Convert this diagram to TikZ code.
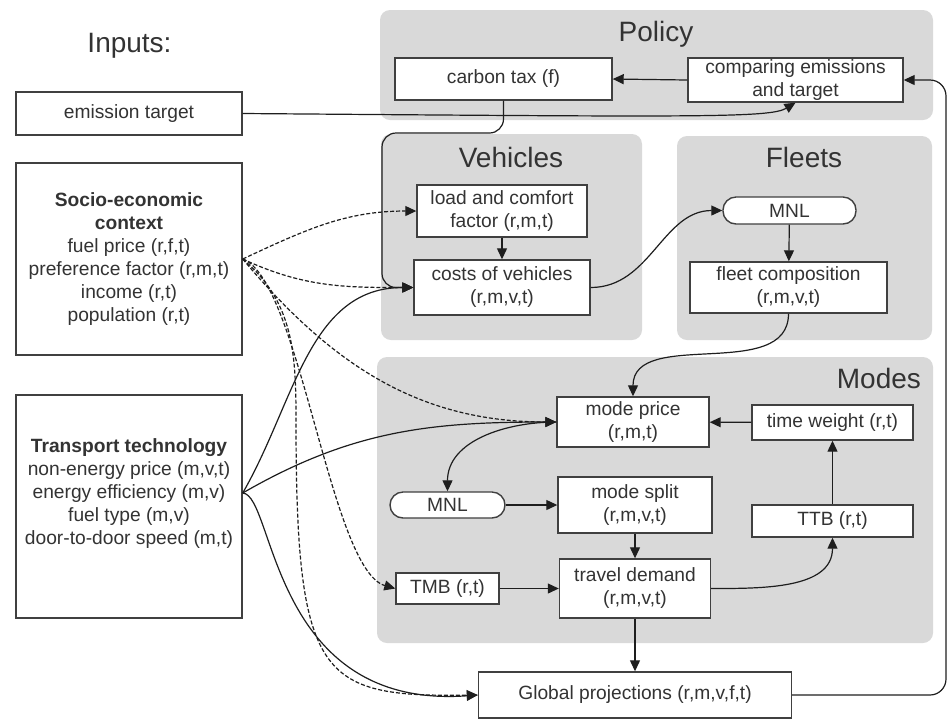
\documentclass[tikz,border=0pt]{standalone}
\usepackage{fontspec}
\setmainfont{Liberation Sans}
\usepackage{tikz}
\usetikzlibrary{arrows.meta,calc}

\definecolor{boxgray}{HTML}{404040}
\definecolor{linegray}{HTML}{1E1E1E}
\definecolor{panelgray}{HTML}{D9D9D9}
\definecolor{textgray}{HTML}{333333}
\newcommand{\blkfont}{\fontsize{9.6}{11.5}\selectfont}
\newcommand{\headfont}{\fontsize{14}{16}\selectfont}

\begin{document}
\begin{tikzpicture}[
    x=0.5pt, y=-0.5pt,
    % node styles
    blk/.style       = {draw=boxgray, fill=white, line width=0.7pt, align=center,
                         inner sep=0.5pt, text=textgray, font=\blkfont},
    pill/.style      = {blk, rounded corners=6.5pt},
    panel/.style     = {fill=panelgray, rounded corners=5pt},
    panelhead/.style = {font=\headfont, text=textgray, anchor=base},
    % edges
    link/.style      = {-{Triangle[length=5.5pt,width=5pt]}, line width=0.6pt, draw=linegray},
    dlink/.style     = {link, dash pattern=on 2pt off 1pt}
  ]
\useasboundingbox (0,0) rectangle (949,720);

% ============================================================
% Panels (grey backgrounds)
% ============================================================
\fill[panel] (380,10) rectangle (933,120);
\fill[panel] (381,134) rectangle (642,340);
\fill[panel] (677,136) rectangle (932,340);
\fill[panel] (377,357) rectangle (933,643);

\node[panelhead] (hinputs) at (129.5,52) {Inputs:};
\node[panelhead] (hpolicy) at (656,41) {Policy};
\node[panelhead] (hvehicles) at (511,167) {Vehicles};
\node[panelhead] (hfleets) at (804,167) {Fleets};
\node[panelhead, anchor=base east] (hmodes) at (928,388) {Modes};

% ============================================================
% Inputs (left column)
% ============================================================
\node[blk, minimum width=113pt, minimum height=21.5pt] (target) at (129,113.5)
  {emission target};
\node[blk, minimum width=113pt, minimum height=96pt] (socio) at (129,259)
  {\textbf{Socio-economic}\\\textbf{context}\\fuel price (r,f,t)\\
   preference factor (r,m,t)\\income (r,t)\\population (r,t)};
\node[blk, minimum width=113pt, minimum height=111.5pt] (tech) at (129,506.5)
  {\textbf{Transport technology}\\non-energy price (m,v,t)\\
   energy efficiency (m,v)\\fuel type (m,v)\\door-to-door speed (m,t)\\\strut};
\coordinate (techout) at ($(tech.east)+(0,-13.5)$);

% ============================================================
% Model blocks
% ============================================================
% Policy
\node[blk, minimum width=108.5pt, minimum height=21pt] (ctax) at (503.5,79)
  {carbon tax (f)};
\node[blk, minimum width=107.5pt, minimum height=22pt] (cmp) at (795.5,80)
  {comparing emissions\\and target};

% Vehicles
\node[blk, minimum width=85pt, minimum height=26pt] (load) at (502,211)
  {load and comfort\\factor (r,m,t)};
\node[blk, minimum width=88pt, minimum height=27.5pt] (vcost) at (502,287.5)
  {costs of vehicles\\(r,m,v,t)};

% Fleets
\node[pill, minimum width=66.5pt, minimum height=13.5pt] (fmnl) at (789.5,210.5) {MNL};
\node[blk, minimum width=98.5pt, minimum height=25.5pt] (fcomp) at (788.5,287.5)
  {fleet composition\\(r,m,v,t)};

% Modes
\node[blk, minimum width=76pt, minimum height=25pt] (mprice) at (633,422)
  {mode price\\(r,m,t)};
\node[blk, minimum width=80.5pt, minimum height=17.5pt] (tweight) at (832.5,422.5)
  {time weight (r,t)};
\node[pill, minimum width=57.5pt, minimum height=13pt] (mmnl) at (447.5,505) {MNL};
\node[blk, minimum width=77pt, minimum height=28pt] (msplit) at (635,505)
  {mode split\\(r,m,v,t)};
\node[blk, minimum width=80.5pt, minimum height=16pt] (ttb) at (832.5,521) {TTB (r,t)};
\node[blk, minimum width=51.5pt, minimum height=15.5pt] (tmb) at (447.5,588.5) {TMB (r,t)};
\node[blk, minimum width=75.5pt, minimum height=29.5pt] (demand) at (635,588.5)
  {travel demand\\(r,m,v,t)};

% Output
\node[blk, minimum width=156.5pt, minimum height=23pt] (proj) at (635,695)
  {Global projections (r,m,v,f,t)};
\coordinate (fback) at (946,80);

% ============================================================
% Connectors
% ============================================================
\draw[link] (target.east) .. controls (700,117) and (770,118) .. (cmp.south);
\draw[link] (cmp.west) -- (ctax.east);
\draw[link, rounded corners=7pt] (ctax.south) |- (382,133) |- (vcost.west);
\draw[link] (load) -- (vcost);
\draw[link] (vcost.east) to[out=0,in=180] (fmnl.west);
\draw[link] (fmnl) -- (fcomp);
\draw[link] (fcomp.south) to[out=-90,in=90] (mprice.north);
\draw[link] (tweight) -- (mprice);
\draw[link] (ttb) -- (tweight);
\draw[link] (mprice.west) to[out=180,in=90] (mmnl.north);
\draw[link] (mmnl) -- (msplit);
\draw[link] (msplit) -- (demand);
\draw[link] (tmb) -- (demand);
\draw[link] (demand.east) to[out=0,in=-90] (ttb.south);
\draw[link] (demand) -- (proj);
\draw[link, rounded corners=8pt] (proj.east) -| (fback) -- (cmp.east);

% socio-economic context (dashed)
\draw[dlink] (socio.east) to[out=25,in=180] (load.west);
\draw[dlink] (socio.east) to[out=-25,in=180] (vcost.west);
\draw[dlink] (socio.east) to[out=-50,in=180] (mprice.west);
\draw[dlink] (socio.east) .. controls (300,280) and (330,570) .. (tmb.west);
\draw[dlink] (socio.east) to[out=-40,in=90] (296,420)
  .. controls (296,680) and (320,697) .. (proj.west);

% transport technology (solid)
\draw[link] (techout) to[out=60,in=180] (vcost.west);
\draw[link] (techout) to[out=30,in=180] (mprice.west);
\draw[link] (techout) .. controls (275,495) and (270,710) .. (proj.west);

\end{tikzpicture}
\end{document}
